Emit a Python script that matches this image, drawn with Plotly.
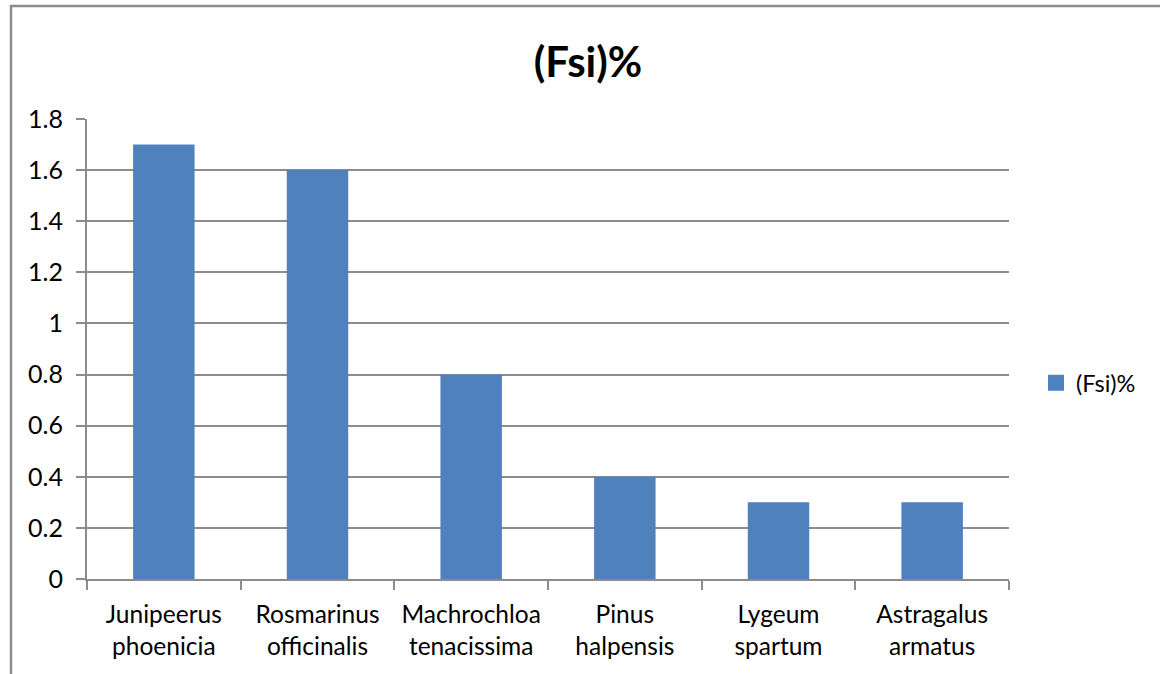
import plotly.graph_objects as go

species = [
    "Junipeerus<br>phoenicia",
    "Rosmarinus<br>officinalis",
    "Machrochloa<br>tenacissima",
    "Pinus<br>halpensis",
    "Lygeum<br>spartum",
    "Astragalus<br>armatus",
]
fsi_values = [1.7, 1.6, 0.8, 0.4, 0.3, 0.3]
y_ticks = [0, 0.2, 0.4, 0.6, 0.8, 1, 1.2, 1.4, 1.6, 1.8]
y_tick_labels = ["0", "0.2", "0.4", "0.6", "0.8", "1", "1.2", "1.4", "1.6", "1.8"]
series_name = "(Fsi)%"

W, H = 1160, 674
L, R, T, B = 87, 151, 119, 95
pw, ph = W - L - R, H - T - B

def px_x(x):
    return (x - L) / pw

def px_y(y):
    return (H - B - y) / ph

font_family = "Lato, Carlito, Calibri, sans-serif"
grid_col = "#8c8c8c"
bar_col = "#4F81BD"

fig = go.Figure()
fig.add_trace(go.Bar(
    x=species,
    y=fsi_values,
    name=series_name,
    marker=dict(color=bar_col, line=dict(width=0)),
    width=0.4,
    showlegend=False,
))
# legend entry with a larger square swatch
fig.add_trace(go.Scatter(
    x=[None], y=[None],
    mode="markers",
    name=series_name,
    marker=dict(symbol="square", size=16, color=bar_col),
    showlegend=True,
))

fig.update_layout(
    width=W, height=H,
    margin=dict(l=L, r=R, t=T, b=B, pad=0),
    paper_bgcolor="white",
    plot_bgcolor="white",
    font=dict(family=font_family, size=24, color="black"),
    title=dict(
        text="<b>" + series_name + "</b>",
        x=588 / W, xanchor="center",
        y=1 - 62 / H, yanchor="middle",
        font=dict(size=42, family=font_family, color="black"),
    ),
    showlegend=True,
    legend=dict(
        x=px_x(1036), xanchor="left",
        y=px_y(383), yanchor="middle",
        font=dict(size=23.5, family=font_family),
        bgcolor="rgba(0,0,0,0)",
        itemwidth=30,
    ),
    bargap=0.6,
    xaxis=dict(
        type="category",
        showline=True, linecolor=grid_col, linewidth=2,
        ticks="outside", ticklen=9, tickcolor=grid_col, tickwidth=2,
        tickson="boundaries",
        showgrid=False,
        ticklabelstandoff=13,
        tickfont=dict(size=24.5, family=font_family),
    ),
    yaxis=dict(
        range=[0, 1.8],
        tickvals=y_ticks, ticktext=y_tick_labels,
        showline=True, linecolor=grid_col, linewidth=2,
        ticks="outside", ticklen=9, tickcolor=grid_col, tickwidth=2,
        showgrid=True, gridcolor=grid_col, gridwidth=1.5,
        zeroline=False,
        ticklabelstandoff=8,
        tickfont=dict(size=25, family=font_family),
    ),
    shapes=[
        dict(
            type="rect", xref="paper", yref="paper",
            x0=px_x(11), x1=px_x(W + 20),
            y0=px_y(H + 20), y1=px_y(6),
            line=dict(color="#8c8c8c", width=2.5),
            fillcolor="rgba(0,0,0,0)",
            layer="below",
        )
    ],
)

fig.write_html("out.html")
